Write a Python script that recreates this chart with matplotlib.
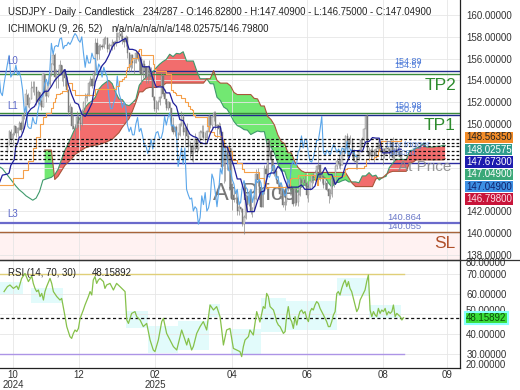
import numpy as np
import matplotlib.pyplot as plt
from matplotlib.lines import Line2D

plt.rcParams['font.family'] = ['Liberation Sans', 'DejaVu Sans']

# ---- daily USDJPY bars (Oct 2024 - Aug 2025), one row per month ----
close = [
    148.2, 149.3, 148.6, 149.1, 149.8, 149.2, 149.6, 150.1, 149.5, 150.8, 151.0, 152.7, 151.8, 152.3, 153.3, 153.4, 153.4, 152.0,
    152.9, 152.1, 151.6, 154.6, 152.9, 152.6, 153.7, 154.6, 155.5, 156.3, 154.3, 154.6, 154.6, 155.4, 154.5, 154.8, 154.2, 153.1, 151.1, 151.6, 149.8,
    149.6, 149.6, 150.6, 150.1, 150.0, 151.2, 151.9, 152.4, 152.6, 153.7, 154.1, 153.5, 154.7, 157.4, 156.4, 157.1, 157.2, 157.1, 157.8, 157.9, 156.9, 157.2,
    157.2, 157.5, 157.3, 157.6, 158.0, 158.3, 158.1, 157.7, 157.5, 158.0, 156.5, 155.2, 156.3, 155.6, 155.6, 156.5, 156.0, 156.0, 154.6, 155.5, 155.2, 154.3, 155.2,
    154.7, 154.3, 152.5, 151.4, 151.4, 152.0, 152.5, 154.4, 152.8, 152.3, 151.5, 152.0, 151.5, 149.9, 149.3, 149.7, 149.0, 149.0, 150.0, 150.6,
    149.3, 149.6, 148.9, 148.0, 148.0, 147.3, 147.7, 148.6, 147.7, 148.6, 149.2, 149.3, 148.7, 148.7, 149.3, 150.7, 149.9, 150.6, 151.0, 149.8, 149.9,
    149.6, 149.3, 146.1, 146.9, 147.8, 146.3, 147.8, 144.0, 143.5, 143.1, 143.2, 142.0, 142.4, 142.2, 140.8, 141.4, 143.4, 142.6, 143.7, 142.0, 142.3, 143.1,
    145.4, 144.9, 143.7, 142.4, 143.8, 145.9, 145.4, 148.4, 147.5, 146.7, 145.7, 145.7, 144.9, 144.5, 143.6, 144.0, 142.6, 142.8, 144.3, 144.8, 144.2, 144.0,
    142.7, 144.0, 142.8, 143.5, 144.9, 144.6, 144.9, 144.6, 143.5, 144.1, 144.7, 145.3, 145.1, 145.5, 146.1, 146.2, 145.0, 145.2, 144.4, 144.6, 144.0,
    143.4, 143.6, 144.9, 144.5, 146.1, 146.6, 146.3, 146.2, 147.4, 147.7, 148.9, 147.8, 148.6, 148.6, 147.4, 146.6, 146.5, 146.9, 147.6, 148.5, 148.5, 149.5, 150.7,
    147.4, 147.1, 147.6, 147.4, 147.1, 147.7, 148.1, 147.8, 147.4, 147.7, 147.2, 147.8, 147.7, 147.3, 148.4, 146.9, 147.7, 147.4, 147.4, 147.0, 147.049,
]
high = [
    148.4, 149.4, 149.5, 149.3, 149.9, 149.8, 149.7, 150.3, 150.3, 150.9, 151.2, 153.2, 152.8, 152.5, 153.9, 153.9, 153.9, 153.4,
    153.1, 152.7, 152.3, 154.7, 154.6, 153.2, 153.9, 154.7, 155.6, 156.7, 156.5, 155.0, 155.0, 155.9, 155.3, 155.0, 155.0, 154.4, 153.2, 151.9, 151.6,
    150.8, 150.0, 151.2, 150.9, 150.6, 151.4, 152.1, 152.8, 152.8, 153.9, 154.4, 154.2, 154.9, 157.9, 157.9, 157.3, 157.3, 157.3, 158.0, 158.1, 158.0, 157.4,
    157.3, 157.8, 157.6, 158.4, 158.4, 158.5, 158.5, 158.9, 158.0, 158.2, 158.1, 156.6, 156.4, 156.4, 156.0, 156.7, 156.8, 156.2, 156.2, 155.9, 155.9, 155.3, 155.4,
    155.9, 155.2, 154.4, 152.6, 152.2, 152.2, 152.6, 154.8, 154.6, 153.2, 152.2, 152.1, 152.0, 151.5, 150.6, 149.8, 149.9, 149.3, 150.1, 151.2,
    151.0, 149.8, 150.1, 149.3, 148.4, 148.2, 148.1, 149.2, 148.7, 148.7, 149.4, 149.9, 149.9, 149.3, 149.4, 150.9, 150.7, 150.7, 151.2, 151.2, 150.0,
    150.2, 150.1, 149.2, 147.4, 148.1, 148.1, 148.3, 147.8, 144.6, 144.0, 143.9, 143.4, 142.9, 142.4, 142.3, 141.6, 143.6, 143.3, 143.9, 144.0, 142.4, 143.5,
    145.9, 146.0, 145.0, 143.9, 143.9, 146.2, 146.2, 148.6, 148.6, 147.7, 146.7, 146.2, 146.0, 145.2, 144.7, 144.4, 144.1, 143.2, 144.5, 144.9, 146.3, 144.4,
    144.1, 144.2, 144.3, 144.0, 145.1, 145.0, 145.1, 145.5, 144.8, 144.5, 144.8, 145.4, 145.5, 145.8, 146.2, 148.0, 146.3, 145.5, 145.3, 144.9, 144.9,
    144.1, 144.0, 145.1, 145.0, 146.2, 146.9, 147.2, 146.8, 147.5, 147.8, 149.0, 149.2, 148.8, 149.0, 148.7, 147.7, 147.2, 147.2, 147.7, 148.7, 148.8, 149.6, 150.8,
    150.9, 147.9, 147.8, 148.0, 147.7, 147.8, 148.5, 148.5, 148.0, 147.8, 147.8, 148.0, 148.0, 147.8, 148.5, 148.8, 147.8, 148.2, 148.0, 147.6, 147.409,
]
low = [
    147.3, 148.1, 148.3, 148.0, 149.0, 148.8, 148.9, 149.4, 149.3, 149.3, 150.5, 150.8, 151.6, 151.5, 152.6, 152.9, 152.7, 151.7,
    151.8, 151.7, 151.3, 151.6, 152.6, 152.0, 152.5, 153.5, 154.4, 155.4, 153.9, 153.3, 153.3, 154.5, 153.9, 153.5, 153.5, 152.9, 150.8, 151.0, 149.5,
    149.6, 148.6, 149.5, 149.7, 149.4, 149.8, 151.0, 151.5, 152.1, 152.8, 153.5, 153.3, 153.3, 154.5, 155.9, 156.0, 156.8, 156.9, 157.0, 157.3, 156.6, 156.5,
    156.9, 156.8, 156.9, 157.2, 157.4, 157.7, 157.8, 157.3, 157.1, 157.2, 156.1, 154.8, 154.9, 155.1, 154.6, 155.6, 155.8, 154.8, 153.7, 154.2, 154.9, 153.8, 153.8,
    154.0, 154.0, 152.2, 151.2, 150.9, 151.3, 151.7, 152.4, 152.6, 151.8, 151.3, 151.3, 150.9, 149.4, 149.1, 148.9, 148.6, 148.6, 148.9, 149.8,
    149.0, 148.1, 148.8, 147.4, 146.9, 146.6, 146.5, 147.4, 147.3, 147.5, 148.4, 148.8, 148.5, 148.2, 148.3, 149.3, 149.6, 149.6, 150.3, 149.5, 148.7,
    149.1, 148.7, 145.8, 144.6, 144.8, 145.8, 143.9, 143.9, 142.1, 142.8, 142.7, 141.6, 141.6, 141.9, 140.6, 139.9, 141.3, 141.9, 142.5, 141.7, 141.5, 142.1,
    143.0, 144.3, 143.5, 142.4, 142.4, 143.6, 145.1, 145.6, 147.1, 146.0, 145.4, 145.2, 144.6, 144.0, 143.3, 143.1, 142.4, 142.1, 142.6, 143.8, 143.5, 143.5,
    142.5, 142.5, 142.6, 142.5, 143.4, 144.2, 144.3, 144.3, 143.2, 142.8, 143.9, 144.2, 144.6, 144.9, 145.1, 145.9, 144.8, 144.6, 144.1, 144.0, 143.8,
    142.7, 143.1, 143.3, 144.2, 144.5, 145.9, 146.0, 145.9, 146.2, 147.1, 147.6, 147.0, 147.7, 148.2, 147.0, 146.5, 145.9, 145.9, 146.7, 147.4, 147.9, 148.0, 148.5,
    147.3, 146.6, 146.8, 147.0, 146.5, 146.9, 147.4, 147.6, 146.8, 146.2, 146.9, 147.2, 147.4, 146.9, 147.3, 146.6, 146.8, 147.1, 147.1, 146.9, 146.75,
]
first_open = 147.4
last_open = 146.828

# ---- Ichimoku lines (bar index, value) ----
tenkan_x = [-5, -3, 0, 1, 2, 4, 5, 6, 7] + list(range(8, 233, 2)) + [233]
tenkan = [144.5, 145.3, 145.4, 145.5, 146.2, 146.7, 148.0, 148.2, 148.8,
          148.8, 149.6, 151.0, 151.4, 151.6, 152.2, 152.6, 153.0, 153.0, 153.45, 154.0, 154.35, 154.6, 155.0, 153.65, 152.7,
          151.95, 151.8, 150.9, 150.7, 151.25, 151.9, 153.85, 154.7, 155.35, 155.7, 156.3, 157.05, 157.45, 157.5, 157.7, 157.85,
          156.85, 156.85, 156.75, 156.4, 155.25, 155.25, 155.25, 154.2, 153.4, 153.4, 153.4, 152.85, 152.85, 151.95, 151.6, 150.4,
          150.3, 149.65, 149.05, 148.85, 148.75, 148.3, 148.2, 148.2, 149.1, 149.7, 149.7, 149.75, 147.9, 147.9, 147.05, 146.1,
          144.95, 144.95, 143.85, 141.95, 141.95, 141.95, 142.95, 143.75, 143.85, 145.35, 145.5, 145.5, 146.1, 145.85, 144.9, 144.15,
          144.2, 144.2, 144.2, 144.4, 144.0, 144.0, 144.0, 144.3, 145.4, 145.4, 146.0, 145.35, 145.35, 144.45, 144.95, 145.1,
          146.15, 146.85, 147.55, 147.55, 147.55, 147.45, 148.35, 148.4, 148.75, 148.7, 148.7, 147.35, 147.35, 147.35, 147.5,
          147.5, 147.7, 147.673]
kijun_x = [-5, 3, 9, 12, 15, 17, 19, 21, 23, 26, 27, 28, 29, 31, 32, 35, 36, 38, 40, 52, 64, 66, 68, 69, 70, 71, 72, 73, 74,
           77, 78, 79, 86, 87, 88, 94, 97, 98, 99, 100, 103, 105, 107, 108, 109, 110, 111, 118, 119, 120, 121, 122, 123, 127,
           128, 131, 133, 136, 139, 140, 149, 151, 152, 153, 154, 167, 168, 172, 182, 183, 184, 191, 199, 200, 201, 211, 212,
           213, 217, 218, 219, 220, 221, 233]
kijun = [144.4, 145.0, 145.8, 146.6, 147.8, 148.8, 150.0, 150.6, 151.0, 151.45, 152.0, 152.35, 152.75, 152.8, 153.0, 153.6,
         153.75, 153.1, 152.65, 153.25, 153.5, 153.95, 154.15, 154.35, 154.95, 155.2, 155.5, 155.85, 156.1, 156.7, 156.85,
         156.3, 155.55, 155.05, 154.9, 154.55, 153.1, 152.95, 152.85, 152.7, 152.4, 152.0, 151.65, 151.4, 151.25, 150.85,
         150.65, 149.85, 149.35, 149.3, 149.25, 149.0, 148.85, 148.5, 147.9, 147.55, 146.65, 146.4, 145.9, 145.55, 145.05,
         145.0, 144.55, 144.1, 144.25, 144.95, 145.05, 145.35, 144.9, 144.4, 145.05, 145.25, 145.35, 145.85, 145.95, 146.15,
         146.75, 146.8, 147.0, 147.1, 147.55, 147.7, 148.4, 148.56]

# leading span A before span B exists
lead_a_x = [-5, -3, -1, 1, 3, 5, 7, 9, 11, 13, 15, 17, 19, 21]
lead_a = [146.1, 145.9, 145.5, 145.1, 144.7, 144.3, 143.95, 143.7, 143.4, 143.2, 143.0, 143.2, 143.8, 144.85]

cloud_x = list(range(22, 259, 2)) + [259]
cloud_a = [144.9, 145.0, 145.1, 145.35, 145.85, 146.75, 147.6, 148.2, 148.9, 149.6, 150.3, 150.8, 151.5, 151.9, 152.1,
           152.45, 153.18, 153.55, 153.8, 154.0, 153.7, 152.9, 152.3, 152.23, 151.78, 151.68, 151.95, 152.28, 153.55, 153.98,
           154.3, 154.48, 154.78, 155.15, 155.48, 155.73, 155.93, 156.4, 156.18, 156.48, 156.43, 156.63, 155.78, 155.78, 155.78,
           154.88, 154.15, 154.15, 154.15, 153.7, 153.68, 152.45, 152.15, 151.55, 151.35, 150.83, 150.23, 149.85, 149.7, 149.48,
           149.43, 149.03, 149.2, 149.35, 149.28, 149.3, 147.9, 147.9, 147.3, 146.38, 145.68, 145.68, 144.7, 143.75, 143.75,
           143.75, 144.25, 144.4, 144.2, 144.8, 144.88, 144.88, 145.18, 145.05, 144.58, 144.2, 144.63, 144.63, 144.78, 144.88,
           144.68, 144.68, 144.68, 144.6, 145.23, 145.23, 145.53, 145.2, 145.3, 144.85, 145.1, 145.18, 146.0, 146.4, 146.75,
           146.75, 146.75, 146.7, 147.55, 147.6, 147.78, 147.9, 148.2, 147.88, 147.88, 147.88, 147.95, 147.95, 148.05, 148.03]
cloud_b = [147.6, 147.6, 147.6, 144.9, 145.2, 145.7, 146.2, 146.5, 146.8, 147.2, 147.4, 147.6, 147.8, 147.9, 148.0,
           148.05, 148.1, 148.2, 148.3, 148.45, 148.6, 148.9, 149.2, 149.7, 150.1, 150.5, 151.2, 152.0, 152.95, 152.95,
           153.25, 153.35, 153.35, 153.35, 153.5, 153.55, 153.75, 153.75, 153.75, 153.75, 153.75, 153.75, 153.75, 153.75, 153.75,
           153.75, 153.75, 153.75, 154.15, 154.15, 154.9, 154.0, 153.75, 153.75, 153.75, 153.5, 152.9, 152.7, 152.7, 152.7,
           152.7, 152.7, 152.35, 152.3, 151.65, 151.65, 150.7, 150.4, 149.9, 149.0, 148.4, 148.2, 147.35, 147.35, 146.55,
           146.0, 145.7, 145.55, 145.55, 145.55, 145.55, 145.55, 145.55, 145.55, 145.55, 145.55, 145.55, 145.55, 145.55, 145.55,
           145.05, 144.55, 144.25, 144.25, 144.25, 144.25, 144.25, 144.25, 144.95, 145.05, 145.05, 145.35, 145.55, 145.65, 145.65,
           145.65, 145.65, 145.65, 146.45, 146.5, 146.7, 146.7, 146.7, 146.7, 146.7, 146.7, 146.7, 146.7, 146.7, 146.8]

# ---- RSI(14) ----
rsi_x = [-2, 0, 1.5, 3.5, 5.5, 6.5, 8.4, 10.4, 12.4, 14.4, 15.3, 16.3, 17.3, 18.3, 19.3, 20.3, 21.3, 22.2, 23.2, 25.2, 26.2,
         27.2, 29.2, 31.1, 32.1, 34.1, 35.1, 37.0, 38.0, 39.0, 40.0, 41.0, 42.0, 43.0, 44.9, 45.9, 47.9, 48.9, 49.9, 50.8, 51.8,
         52.8, 53.8, 54.8, 56.8, 57.7, 58.7, 60.7, 62.7, 64.6, 66.6, 69.6, 70.6, 71.6, 73.5, 75.5, 76.5, 78.5, 80.4, 82.4, 84.4,
         86.3, 87.3, 89.3, 91.3, 92.3, 94.2, 96.2, 98.2, 100.2, 103.1, 105.1, 106.1, 107.1, 109.0, 110.0, 112.0, 114.0, 115.9,
         117.9, 119.9, 121.9, 123.8, 125.8, 126.8, 127.8, 129.7, 131.7, 133.7, 137.6, 138.6, 139.6, 140.6, 142.6, 143.5, 145.5,
         147.5, 149.4, 151.4, 152.4, 153.4, 154.4, 155.4, 157.4, 158.3, 159.3, 160.3, 161.3, 162.3, 163.3, 164.3, 165.2, 166.2,
         167.2, 168.2, 169.2, 170.2, 171.2, 172.2, 173.1, 174.1, 175.1, 176.1, 177.1, 178.1, 179.1, 180.1, 181.0, 182.0, 183.0,
         184.0, 185.0, 186.0, 187.0, 188.9, 189.9, 190.9, 191.9, 192.9, 193.9, 194.9, 195.8, 196.8, 197.8, 198.8, 199.8, 200.8,
         201.8, 202.7, 203.7, 204.7, 205.7, 206.7, 207.7, 208.7, 209.7, 210.6, 211.6, 212.6, 213.6, 214.6, 215.6, 216.6, 217.6,
         218.5, 219.5, 220.5, 221.5, 222.5, 223.5, 224.5, 225.5, 226.5, 227.5, 228.4, 229.4, 230.4, 231.4, 232.4, 233.4, 234.4]
rsi = [61.2, 63.7, 64.5, 62.8, 64.0, 62.3, 67.8, 70.3, 66.2, 69.0, 65.3, 62.8, 61.2, 62.0, 58.7, 60.3, 57.0, 61.2, 63.7, 67.8, 65.3,
       61.2, 58.7, 57.0, 57.8, 48.7, 43.7, 38.7, 37.8, 40.3, 42.0, 41.2, 42.8, 47.8, 52.0, 54.5, 58.7, 61.2, 59.5, 67.0, 68.7,
       65.3, 67.0, 67.8, 66.2, 62.8, 64.5, 65.3, 62.0, 65.3, 63.7, 61.2, 47.0, 45.3, 50.3, 51.2, 48.7, 47.0, 43.7, 45.3, 37.0,
       32.0, 31.2, 37.0, 46.2, 47.8, 40.3, 37.0, 33.7, 32.0, 42.0, 37.0, 34.5, 37.8, 32.0, 33.7, 40.3, 43.7, 46.2,
       42.0, 54.5, 52.0, 53.7, 48.7, 42.0, 34.5, 42.0, 42.8, 32.8, 31.2, 28.7, 33.7, 37.0, 38.7, 42.0, 39.5,
       51.2, 46.0, 53.7, 52.8, 60.3, 58.7, 53.7, 52.0, 49.5, 46.2, 44.5, 43.7, 42.0, 40.3, 41.2, 48.7, 53.7,
       47.8, 46.2, 42.8, 48.7, 44.5, 48.7, 51.2, 52.0, 50.3, 51.2, 47.8, 46.2, 51.2, 52.8, 52.0, 54.5, 56.2,
       55.3, 52.8, 51.2, 49.5, 46.2, 43.7, 43.7, 46.2, 49.5, 51.2, 60.3, 61.2, 59.5, 62.8, 65.3, 67.0, 63.7,
       66.2, 62.8, 61.2, 57.8, 54.5, 51.2, 52.8, 57.0, 58.7, 60.3, 62.0, 66.2, 69.5, 52.0, 48.7, 51.2, 49.5,
       48.7, 52.8, 50.3, 52.0, 51.2, 52.8, 49.5, 51.2, 50.3, 51.2, 54.5, 48.7, 50.3, 49.5, 48.7, 47.0, 48.16]
# pale cyan RSI range boxes: (start bar, end bar, low, high)
rsi_boxes = [(-4.4, 9, 60, 66), (14, 33, 55.5, 63), (70, 83, 43, 51.5), (83, 101, 30.5, 44), (101, 119, 32, 46.5),
             (119, 126, 48.5, 55), (132, 150, 30, 42.5), (150, 165, 41, 58), (165, 195, 42, 56.5), (195, 214, 59, 68),
             (214, 233, 48, 54.5)]

# ---- horizontal levels ----
dashed_levels = [148.60, 148.28, 147.97, 147.54, 147.15, 146.78]
month_ticks = [3.3, 42.4, 87.3, 132.9, 177.3, 222.2, 260.1]
month_labels = ['10\n2024', '12', '02\n2025', '04', '06', '08', '09']
price_ticks = [138, 140, 142, 150, 152, 154, 156, 158, 160]   # 144-148 sit under the value boxes
side_labels = [('148.56350', '#f28c28', '#222222'), ('148.02575', '#2f9c8e', 'white'), ('147.67300', '#1c1cae', 'white'),
               ('147.04900', '#3aa878', 'white'), ('147.04900', '#3d8fe3', '#10206a'), ('146.79800', '#c8143a', '#ffe0e8')]

W, H = 520, 390
def fx(x):
    return x / W
def fy(y):
    return 1 - y / H

fig = plt.figure(figsize=(5.2, 3.9), dpi=100)
ax = fig.add_axes([0, 130 / H, 460 / W, 260 / H])
ax2 = fig.add_axes([0, 22 / H, 460 / W, 108 / H])

n = len(close)
bars = np.arange(n)
c = np.array(close)
o = np.array([first_open] + close[:-1])
o[-1] = last_open
hi = np.maximum(np.array(high), np.maximum(o, c))
lo = np.minimum(np.array(low), np.minimum(o, c))

# background bands / levels
ax.axhspan(137.0, 140.055, color='#fff2f2', zorder=0)
ax.axhline(154.89, color='#1f2a8c', lw=1.0, zorder=2)
ax.axhline(154.57, color='#3a8a3a', lw=1.0, zorder=2)
ax.axhline(150.98, color='#3a8a3a', lw=1.0, zorder=2)
ax.axhline(150.78, color='#1f2a8c', lw=1.0, zorder=2)
ax.axhline(146.41, color='#2a2aa0', lw=1.0, zorder=2)
ax.axhline(140.864, color='#6a6acb', lw=1.6, zorder=2)
ax.axhline(140.055, color='#a8643a', lw=1.0, zorder=2)

# cloud
ca = np.array(cloud_a)
cb = np.array(cloud_b)
ax.fill_between(cloud_x, ca, cb, where=ca >= cb, interpolate=True, color='#f26d6d', lw=0, zorder=1)
ax.fill_between(cloud_x, ca, cb, where=ca < cb, interpolate=True, color='#72e872', lw=0, zorder=1)
ax.plot(lead_a_x + cloud_x, lead_a + cloud_a, color='#3f9a6c', lw=0.8, zorder=2)
ax.plot(cloud_x, cloud_b, color='#a9553a', lw=0.8, zorder=2)

# big watermark text
ax.text(121.7, 143.6, 'At Price', fontsize=17, color='#555555', alpha=0.8, va='center', ha='left', zorder=2)
ax.text(231.0, 146.05, 'At Price', fontsize=11, color='#8a8a8a', alpha=0.9, va='center', ha='left', zorder=2)

# candles
up = c >= o
ax.vlines(bars, lo, hi, color='#8c8c8c', lw=0.5, zorder=3)
ax.bar(bars[up], (c - o)[up] + 0.02, bottom=o[up], width=0.7, color='#d8d8d8', edgecolor='#8a8a8a', lw=0.3, zorder=3)
ax.bar(bars[~up], (c - o)[~up] - 0.02, bottom=o[~up], width=0.7, color='#7a7a7a', edgecolor='#7a7a7a', lw=0.3, zorder=3)

# ichimoku lines
ax.plot(bars - 26, c, color='#5aa6ea', lw=0.8, zorder=4)
ax.step(kijun_x, kijun, where='post', color='#f5a04a', lw=0.8, zorder=4)
ax.plot(tenkan_x, tenkan, color='#1f1f9a', lw=0.9, zorder=4)

for lv in dashed_levels:
    ax.axhline(lv, color='#111111', lw=0.9, ls=(0, (2.2, 1.6)), zorder=5)

# faint order tags beside the dashed levels
ax.text(224, 148.1, 'Buy trigger', fontsize=6.5, color='#4a78d8', alpha=0.75, va='center', ha='left', zorder=5)
ax.text(226, 147.35, 'placed', fontsize=6.5, color='#4a78d8', alpha=0.75, va='center', ha='left', zorder=5)

ax.set_xlim(-4.4, 267.8)
ax.set_ylim(137.51, 161.38)
ax.set_xticks(month_ticks)
ax.set_xticklabels([])
ax.yaxis.tick_right()
ax.set_yticks(price_ticks)
ax.set_yticklabels([f'{v:.5f}' for v in price_ticks])
ax.set_yticks([144, 146, 148], minor=True)
ax.tick_params(axis='both', which='both', length=0, labelsize=7, colors='#333333', pad=4.5)
ax.grid(True, which='both', color='#e6e6e6', lw=0.6, zorder=0)
for s in ['top', 'left', 'bottom']:
    ax.spines[s].set_visible(False)
ax.spines['right'].set_color('#222222')
ax.spines['right'].set_linewidth(0.9)

# RSI panel
for x0, x1, r0, r1 in rsi_boxes:
    ax2.fill_between([x0, x1], r0, r1, color='#e2fbfb', lw=0, zorder=0)
ax2.plot([-4.4, 234.4], [70, 70], color='#e0cf78', lw=1.0, zorder=2)
ax2.plot([-4.4, 234.4], [30, 30], color='#ad94e6', lw=1.0, zorder=2)
ax2.axhline(48.16, color='#111111', lw=0.9, ls=(0, (2.5, 2)), zorder=2)
ax2.plot(rsi_x, rsi, color='#86c14a', lw=0.9, zorder=3)
ax2.set_xlim(-4.4, 267.8)
ax2.set_ylim(23, 77)
ax2.yaxis.tick_right()
ax2.set_yticks([30, 40, 60, 70])
ax2.set_yticklabels([f'{v:.5f}' for v in [30, 40, 60, 70]])
ax2.set_yticks([50], minor=True)
ax2.set_xticks(month_ticks)
ax2.set_xticklabels(month_labels, linespacing=0.95)
ax2.tick_params(axis='both', which='both', length=0, labelsize=7, colors='#333333')
ax2.tick_params(axis='y', pad=4.5)
ax2.tick_params(axis='x', pad=1.5)
ax2.grid(True, which='both', color='#e6e6e6', lw=0.6, zorder=0)
ax2.spines['left'].set_visible(False)
for s in ['top', 'right', 'bottom']:
    ax2.spines[s].set_color('#222222')
    ax2.spines[s].set_linewidth(0.9)

fig.add_artist(Line2D([0, 1], [fy(260), fy(260)], color='#333333', lw=0.9))
fig.text(fx(466), fy(263), '80.00000', fontsize=7, color='#333333', va='center')
fig.text(fx(466), fy(365), '20.00000', fontsize=7, color='#333333', va='center')
# 50 label peeks out above the RSI value box
fig.text(fx(466), fy(311), '50.00000', fontsize=7, color='#333333', va='center')

# header texts
fig.text(fx(8), fy(12), 'USDJPY - Daily - Candlestick', fontsize=6.9, color='#222222', va='center')
fig.text(fx(143), fy(12), '234/287 - O:146.82800 - H:147.40900 - L:146.75000 - C:147.04900', fontsize=6.9, color='#222222', va='center')
fig.text(fx(8), fy(29), 'ICHIMOKU (9, 26, 52)', fontsize=6.9, color='#222222', va='center')
fig.text(fx(111), fy(29), 'n/a/n/a/n/a/n/a/148.02575/146.79800', fontsize=6.9, color='#222222', va='center')
fig.text(fx(8), fy(273), 'RSI (14, 70, 30)', fontsize=6.9, color='#222222', va='center')
fig.text(fx(92), fy(273), '48.15892', fontsize=6.9, color='#222222', va='center')

# level labels
for name, y in [('L0', 61), ('L1', 106), ('L3', 214)]:
    fig.text(fx(7), fy(y), name, fontsize=7, color='#5a66c8', va='center')
fig.text(fx(422), fy(62), '154.89', fontsize=6.5, color='#4a78d8', va='center', ha='right')
fig.text(fx(422), fy(66), '154.57', fontsize=6.5, color='#4a78d8', va='center', ha='right')
fig.text(fx(422), fy(105), '150.98', fontsize=6.5, color='#4a78d8', va='center', ha='right')
fig.text(fx(422), fy(109), '150.78', fontsize=6.5, color='#4a78d8', va='center', ha='right')
fig.text(fx(421), fy(217), '140.864', fontsize=6.8, color='#6a78c8', va='center', ha='right')
fig.text(fx(421), fy(226.5), '140.055', fontsize=6.8, color='#6a78c8', va='center', ha='right')
fig.text(fx(456), fy(86), 'TP2', fontsize=12.5, color='#2e8b2e', va='center', ha='right')
fig.text(fx(456), fy(125), 'TP1', fontsize=12.5, color='#2e8b2e', va='center', ha='right')
fig.text(fx(455), fy(244), 'SL', fontsize=12.5, color='#b0502a', va='center', ha='right')

# right-hand value boxes
for k, (txt, bg, tc) in enumerate(side_labels):
    fig.text(fx(466), fy(137.3 + 12.35 * k), txt, fontsize=7, color=tc, va='center', ha='left',
             bbox=dict(boxstyle='square,pad=0.08', fc=bg, ec='none'))
fig.text(fx(466), fy(318), '48.15892', fontsize=7, color='#0a4a0a', va='center', ha='left',
         bbox=dict(boxstyle='square,pad=0.12', fc='#38dd38', ec='#88ffff', lw=1.5))

fig.savefig('out.png', dpi=100)
